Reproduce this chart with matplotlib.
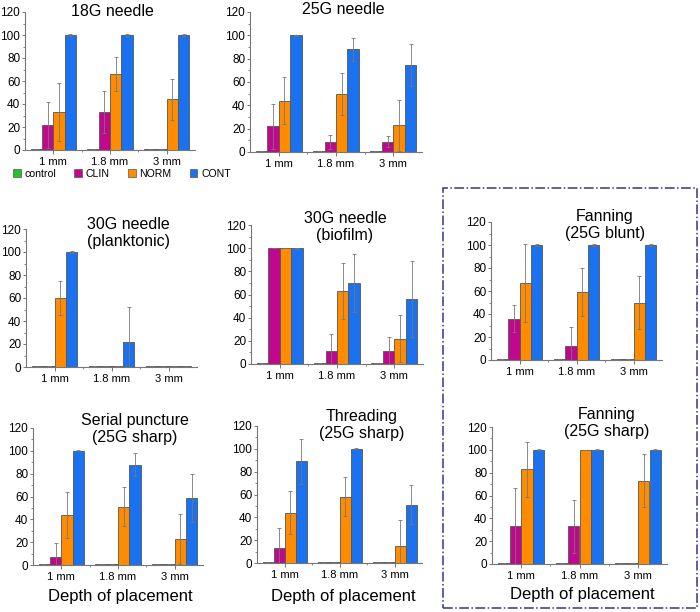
import numpy as np
import matplotlib.pyplot as plt
from matplotlib.patches import Patch, Rectangle
from matplotlib.ticker import MultipleLocator

plt.rcParams['font.family'] = ['Liberation Sans', 'DejaVu Sans']

depths = ['1 mm', '1.8 mm', '3 mm']
groups = ['control', 'CLIN', 'NORM', 'CONT']
colors = ['#22c322', '#c0088f', '#ff8c00', '#1a72f0']

titles = ['18G needle', '25G needle', '30G needle\n(planktonic)', '30G needle\n(biofilm)',
          'Fanning\n(25G blunt)', 'Serial puncture\n(25G sharp)', 'Threading\n(25G sharp)',
          'Fanning\n(25G sharp)']

# values per panel: rows = control, CLIN, NORM, CONT ; cols = depths
vals = [
    [[1, 1, 1], [22, 33, 1], [33, 66, 44], [100, 100, 100]],
    [[1, 1, 1], [22, 9, 9], [44, 50, 23], [100, 88, 75]],
    [[1, 1, 1], [1, 1, 1], [60, 1, 1], [100, 22, 1]],
    [[1, 1, 1], [100, 11, 11], [100, 63, 22], [100, 70, 56]],
    [[1, 1, 1], [36, 12, 1], [67, 59, 50], [100, 100, 100]],
    [[1, 1, 1], [7, 1, 1], [44, 51, 23], [100, 88, 59]],
    [[1, 1, 1], [13, 1, 1], [44, 58, 15], [89, 100, 51]],
    [[1, 1, 1], [33, 33, 1], [83, 100, 73], [100, 100, 100]],
]
errs = [
    [[0, 0, 0], [20, 18, 0], [25, 15, 18], [0.5, 0.5, 0.5]],
    [[0, 0, 0], [19, 6, 5], [20, 18, 22], [0.5, 10, 18]],
    [[0, 0, 0], [0, 0, 0], [15, 0, 0], [0.5, 30, 0]],
    [[0, 0, 0], [0, 15, 12], [0, 24, 20], [0.5, 25, 33]],
    [[0, 0, 0], [12, 17, 0], [34, 21, 23], [0.5, 0.5, 0.5]],
    [[0, 0, 0], [12, 0, 0], [20, 17, 22], [0.5, 10, 21]],
    [[0, 0, 0], [18, 0, 0], [19, 17, 23], [20, 0.5, 17]],
    [[0, 0, 0], [34, 23, 0], [24, 0, 23], [0.5, 0.5, 0.5]],
]

W, H = 700, 612
fig = plt.figure(figsize=(W / 100, H / 100), dpi=100)

def px(x0, y_top, x1, y_bot):
    return [x0 / W, 1 - y_bot / H, (x1 - x0) / W, (y_bot - y_top) / H]

# axes boxes in pixels: left, top(y=120), right, bottom(y=0)
boxes = [(25, 12, 195, 150), (250, 12, 422, 152), (26, 229, 197, 367), (251, 225, 423, 364),
         (491, 222, 662, 360), (33, 428, 203, 565), (257, 426, 422, 563), (492, 427, 667, 564)]
title_pos = [(112, 11), (343, 9), (128, 233), (345, 227), (605, 225), (135, 429), (362, 425), (607, 423)]

x = np.arange(1, 4)
bw = 0.2
for i in range(8):
    ax = fig.add_axes(px(*boxes[i]))
    for j in range(4):
        ax.bar(x + (j - 1.5) * bw, vals[i][j], bw, color=colors[j], edgecolor='#555555',
               linewidth=0.6, yerr=errs[i][j], ecolor='#777777',
               error_kw=dict(elinewidth=0.6, capsize=1.5, capthick=0.6))
    ax.set_xlim(0.5, 3.5)
    ax.set_ylim(0, 120)
    ax.set_yticks(range(0, 121, 20))
    ax.yaxis.set_minor_locator(MultipleLocator(10))
    ax.set_xticks(x)
    ax.set_xticklabels(depths)
    ax.set_xticks([1.5, 2.5], minor=True)
    for s in ['top', 'right']:
        ax.spines[s].set_visible(False)
    for s in ['left', 'bottom']:
        ax.spines[s].set_color('#777777')
        ax.spines[s].set_linewidth(0.8)
    ax.tick_params(axis='y', labelsize=8.5, length=2.5, width=0.7, color='#777777', pad=1)
    ax.tick_params(axis='x', labelsize=8, length=3, width=0.7, color='#777777', pad=2)
    ax.tick_params(which='minor', length=1.6, width=0.6, color='#777777')
    ax.patch.set_alpha(0)
    tx, ty = title_pos[i]
    fig.text(tx / W, 1 - ty / H, titles[i], ha='center', va='center', fontsize=11.5,
             linespacing=1.1)

# legend under first panel
handles = [Patch(facecolor=c, edgecolor='#555555', linewidth=0.5) for c in colors]
fig.legend(handles, groups, loc='center left', bbox_to_anchor=(13 / W, 1 - 174 / H), ncol=4,
           frameon=False, fontsize=7.6, handlelength=0.75, handleheight=0.75, handletextpad=0.35,
           columnspacing=1.7, borderaxespad=0, borderpad=0)

for xc, yc in [(120, 597), (343, 597), (582, 595)]:
    fig.text(xc / W, 1 - yc / H, 'Depth of placement', ha='center', va='center', fontsize=12)

# dash-dot box around the fanning panels
fig.patches.append(Rectangle((443 / W, 1 - 608 / H), (697 - 443) / W, (608 - 188) / H,
                             transform=fig.transFigure, fill=False, edgecolor='#35358a',
                             linewidth=1.1, linestyle='-.'))

fig.savefig('out.png', dpi=100)
